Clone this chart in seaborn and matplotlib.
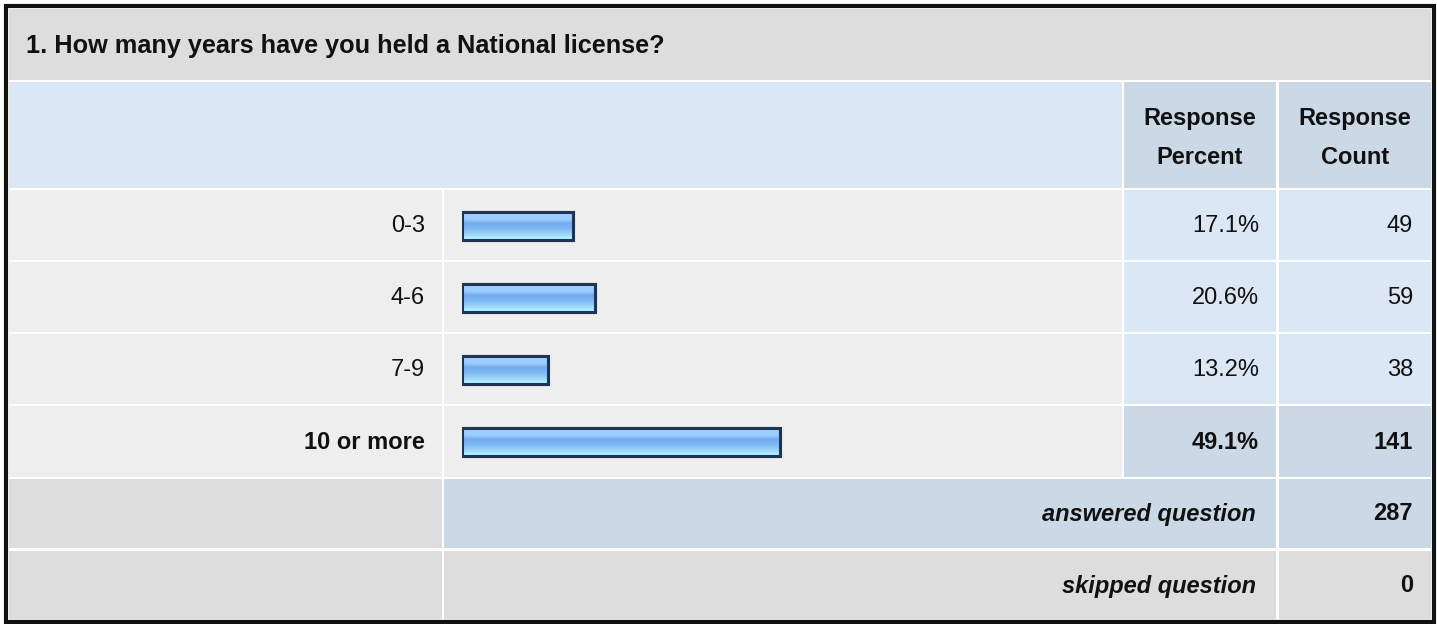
import numpy as np
import pandas as pd
import matplotlib
matplotlib.use('Agg')
import matplotlib.pyplot as plt
from matplotlib.patches import Rectangle
from matplotlib.colors import LinearSegmentedColormap
import seaborn as sns

# ---------------- data ----------------
title = '1. How many years have you held a National license?'
categories = ['0-3', '4-6', '7-9', '10 or more']
percents = [17.1, 20.6, 13.2, 49.1]
counts = [49, 59, 38, 141]
answered = 287
skipped = 0

sns.set_theme(style='white')
plt.rcParams['font.family'] = ['Liberation Sans', 'DejaVu Sans']

W, H = 1437, 624
fig = plt.figure(figsize=(W / 100, H / 100), dpi=100)
fig.patch.set_facecolor('white')

# background axes in pixel coordinates
bg = fig.add_axes([0, 0, 1, 1])
bg.set_xlim(0, W)
bg.set_ylim(H, 0)
bg.axis('off')

GRAY = '#DDDDDD'
LIGHT = '#EEEEEE'
BLUE1 = '#DCE7F5'
BLUE2 = '#CBD8E6'
TXT = '#111111'
FS = 17


def cell(x0, x1, y0, y1, color):
    bg.add_patch(Rectangle((x0, y0), x1 - x0, y1 - y0, facecolor=color,
                           edgecolor='none', zorder=1))


# outer border
bg.add_patch(Rectangle((5.5, 5.5), 1428, 616, facecolor='white',
                       edgecolor='#111111', linewidth=3, zorder=0))

rows = [(190, 260), (262, 332), (334, 404), (406, 477)]

# title row
cell(9, 1431, 9, 80, GRAY)
bg.text(26, 46, title, fontsize=18.2, fontweight='bold', ha='left',
        va='center', color=TXT, zorder=3)

# header row
cell(9, 1122, 82, 188, BLUE1)
cell(1124, 1276, 82, 188, BLUE2)
cell(1279, 1431, 82, 188, BLUE2)
bg.text(1200, 138, 'Response\nPercent', fontsize=FS, fontweight='bold',
        ha='center', va='center', linespacing=1.85, color=TXT, zorder=3)
bg.text(1355, 138, 'Response\nCount', fontsize=FS, fontweight='bold',
        ha='center', va='center', linespacing=1.85, color=TXT, zorder=3)

# data rows
top = max(percents)
for (y0, y1), cat, p, c in zip(rows, categories, percents, counts):
    hi = p == top
    cell(9, 442, y0, y1, LIGHT)
    cell(444, 1122, y0, y1, LIGHT)
    cell(1124, 1276, y0, y1, BLUE2 if hi else BLUE1)
    cell(1279, 1431, y0, y1, BLUE2 if hi else BLUE1)
    yc = (y0 + y1) / 2 + 1
    fw = 'bold' if hi else 'normal'
    bg.text(425, yc, cat, fontsize=FS, fontweight=fw, ha='right',
            va='center', color=TXT, zorder=3)
    bg.text(1259, yc, f'{p:.1f}%', fontsize=FS, fontweight=fw, ha='right',
            va='center', color=TXT, zorder=3)
    bg.text(1413, yc, f'{c}', fontsize=FS, fontweight=fw, ha='right',
            va='center', color=TXT, zorder=3)

# answered / skipped
cell(9, 442, 479, 548, GRAY)
cell(444, 1276, 479, 548, BLUE2)
cell(1279, 1431, 479, 548, BLUE2)
bg.text(1256, 514, 'answered question', fontsize=FS, fontweight='bold',
        style='italic', ha='right', va='center', color=TXT, zorder=3)
bg.text(1413, 514, f'{answered}', fontsize=FS, fontweight='bold',
        ha='right', va='center', color=TXT, zorder=3)

cell(9, 442, 551, 620, GRAY)
cell(444, 1276, 551, 620, GRAY)
cell(1279, 1431, 551, 620, GRAY)
bg.text(1256, 586, 'skipped question', fontsize=FS, fontweight='bold',
        style='italic', ha='right', va='center', color=TXT, zorder=3)
bg.text(1413, 586, f'{skipped}', fontsize=FS, fontweight='bold',
        ha='right', va='center', color=TXT, zorder=3)

# ---------------- bars ----------------
x_left, px_per_pct = 462, 6.48
ax = fig.add_axes([x_left / W, 1 - 478 / H, 100 * px_per_pct / W, 288 / H])
ax.patch.set_alpha(0)
df = pd.DataFrame({'cat': categories, 'pct': percents})
sns.barplot(data=df, x='pct', y='cat', orient='h', color='#78AEEE',
            width=0.39, edgecolor='#1F3355', linewidth=2.2, ax=ax,
            saturation=1)
ax.set_xlim(0, 100)
ax.set_ylim(3.5, -0.5)
ax.axis('off')

# gradient fill inside each bar
grad_cmap = LinearSegmentedColormap.from_list('bar', [
    (0.0, '#A8D2FF'), (0.3, '#96CAFF'), (0.42, '#74AAEE'),
    (0.6, '#7EB6F2'), (0.8, '#9CD4FA'), (1.0, '#B8FCFF')])
grad = np.linspace(0, 1, 64).reshape(-1, 1)
for patch in list(ax.patches):
    x0, y0 = patch.get_x(), patch.get_y()
    w, h = patch.get_width(), patch.get_height()
    im = ax.imshow(grad, cmap=grad_cmap, aspect='auto',
                   extent=[x0, x0 + w, y0 + h, y0],
                   zorder=patch.get_zorder() + 0.1, interpolation='bilinear')
    im.set_clip_path(patch)
    ax.add_patch(Rectangle((x0, y0), w, h, fill=False, edgecolor='#1F3355',
                           linewidth=2.2, zorder=patch.get_zorder() + 0.2))
ax.set_xlim(0, 100)
ax.set_ylim(3.5, -0.5)

fig.savefig('out.png', dpi=100)
